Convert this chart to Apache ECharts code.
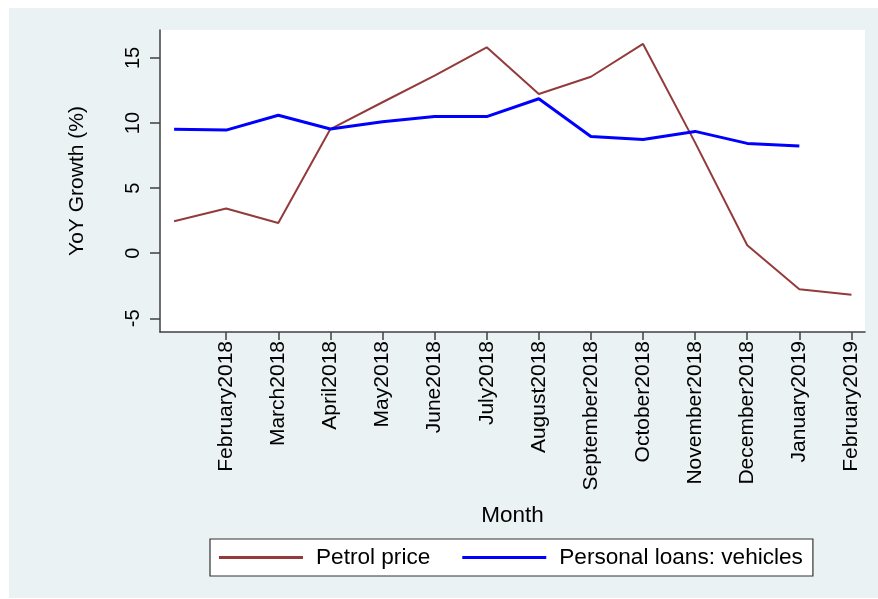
<!DOCTYPE html>
<html>
<head>
<meta charset="utf-8">
<script src="https://cdn.jsdelivr.net/npm/echarts@6/dist/echarts.min.js"></script>
<style>
html,body{margin:0;padding:0;background:#ffffff;}
#chart{width:878px;height:599px;}
</style>
</head>
<body>
<div id="chart"></div>
<script>
const months = ["January2018","February2018","March2018","April2018","May2018","June2018","July2018","August2018","September2018","October2018","November2018","December2018","January2019","February2019"];
const petrol = [2.46, 3.44, 2.33, 9.54, 11.6, 13.64, 15.82, 12.23, 13.56, 16.08, 8.5, 0.62, -2.77, -3.18];
const vehicles = [9.52, 9.46, 10.6, 9.54, 10.1, 10.5, 10.5, 11.87, 8.97, 8.74, 9.36, 8.44, 8.23];
const yTicks = [-5, 0, 5, 10, 15];
const xTicks = [1,2,3,4,5,6,7,8,9,10,11,12,13];

const FONT = '"Liberation Sans", Arial, sans-serif';
const chart = echarts.init(document.getElementById('chart'), null, {renderer:'canvas'});
const pair = arr => arr.map((v,i)=>[i,v]);

chart.setOption({
  animation:false,
  backgroundColor:'#ffffff',
  textStyle:{fontFamily:FONT},
  graphic:[{type:'rect', z:-10, silent:true, shape:{x:9,y:8,width:869,height:590}, style:{fill:'#EAF2F3'}}],
  grid:{left:160,right:13,top:30,bottom:267,show:true,backgroundColor:'#ffffff',borderWidth:0},
  xAxis:{
    type:'value', min:-0.27, max:13.26,
    name:'Month', nameLocation:'middle', nameGap:172,
    nameTextStyle:{fontSize:22.5,color:'#000',fontFamily:FONT},
    axisLine:{show:true,onZero:false,lineStyle:{color:'#404040',width:1.5}},
    axisTick:{show:true,length:8,customValues:xTicks,lineStyle:{color:'#404040',width:1.5}},
    axisLabel:{customValues:xTicks,rotate:90,margin:9,fontSize:21,color:'#000',fontFamily:FONT,formatter:v=>months[Math.round(v)]},
    splitLine:{show:false}
  },
  yAxis:{
    type:'value', min:-6.05, max:17.15,
    name:'YoY Growth (%)', nameLocation:'middle', nameGap:72, nameRotate:90,
    nameTextStyle:{fontSize:21,color:'#000',fontFamily:FONT},
    axisLine:{show:true,onZero:false,lineStyle:{color:'#404040',width:1.5}},
    axisTick:{show:true,length:10,customValues:yTicks,lineStyle:{color:'#404040',width:1.5}},
    axisLabel:{customValues:yTicks,rotate:90,margin:17,fontSize:20,color:'#000',fontFamily:FONT},
    splitLine:{show:false}
  },
  legend:{
    left:210, top:539,
    orient:'horizontal',
    backgroundColor:'#ffffff', borderColor:'#333333', borderWidth:1.2, borderRadius:0,
    padding:[7,10,7,9],
    itemWidth:84, itemHeight:3, itemGap:32, icon:'rect',
    textStyle:{fontSize:22.6,color:'#000',fontFamily:FONT,padding:[0,0,0,8]},
    data:[{name:'Petrol price'},{name:'Personal loans: vehicles'}]
  },
  series:[
    {name:'Petrol price', type:'line', data:pair(petrol), symbol:'none', color:'#933B3B', lineStyle:{color:'#933B3B',width:2}},
    {name:'Personal loans: vehicles', type:'line', data:pair(vehicles), symbol:'none', color:'#0000FF', lineStyle:{color:'#0000FF',width:3}}
  ]
});
</script>
</body>
</html>
